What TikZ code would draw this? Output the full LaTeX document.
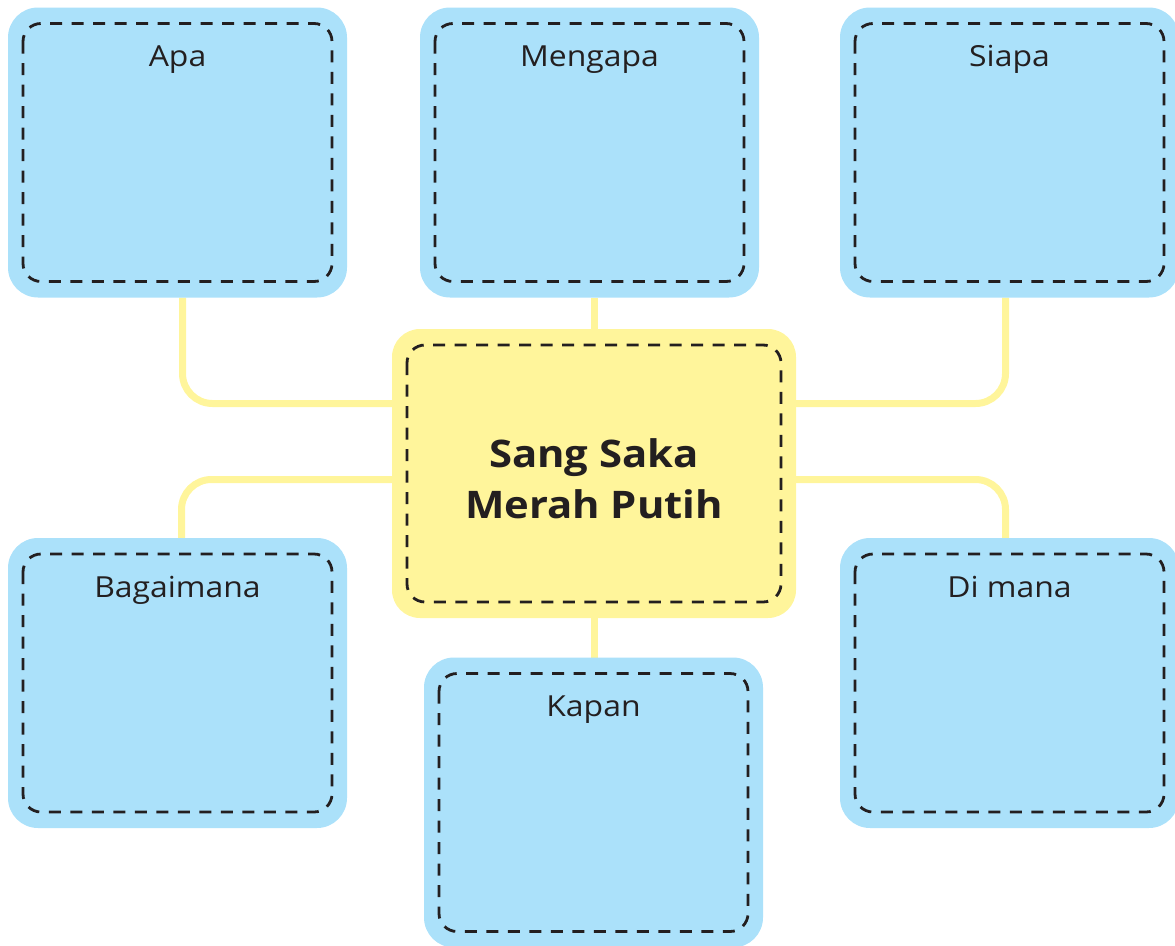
\documentclass[tikz,border=0pt]{standalone}
\usepackage{fontspec}
\setmainfont{Open Sans}[FakeStretch=1.1]
\usetikzlibrary{calc}
\definecolor{boxblue}{RGB}{171,225,250}
\definecolor{boxyellow}{RGB}{255,245,155}
\definecolor{dashink}{RGB}{35,31,32}
\pgfdeclarelayer{background}
\pgfsetlayers{background,main}
\tikzset{
  qbox/.style={fill=boxblue, draw=none, rounded corners=30pt, minimum width=339pt, minimum height=290pt, inner sep=0pt, outer sep=0pt},
  cbox/.style={fill=boxyellow, draw=none, rounded corners=28pt, minimum width=404pt, minimum height=289pt, inner sep=0pt, outer sep=0pt},
  dashline/.style={draw=dashink, line width=2.8pt, dash pattern=on 12pt off 9.5pt, rounded corners=18pt},
  qlabel/.style={anchor=base, inner sep=0pt, text=dashink, font=\fontsize{29}{34}\selectfont},
  conn/.style={draw=boxyellow, line width=7pt, rounded corners=30pt}
}
\newcommand{\innerdash}[1]{\draw[dashline] ([shift={(15pt,-16pt)}]#1.north west) rectangle ([shift={(-15pt,16pt)}]#1.south east);}
\begin{document}
\begin{tikzpicture}[x=1pt,y=-1pt]
\useasboundingbox (0,0) rectangle (1175,945);
\clip (0,0) rectangle (1175,945);
\node[qbox] (apa) at (177.5,152.5) {};
\node[qbox] (mengapa) at (589.5,152.5) {};
\node[qbox] (siapa) at (1009.5,152.5) {};
\node[cbox] (cen) at (594,473.5) {};
\node[qbox] (bag) at (177.5,683) {};
\node[qbox] (dimana) at (1009.5,683) {};
\node[qbox] (kapan) at (593.5,802.5) {};
\foreach \b in {apa,mengapa,siapa,cen,bag,dimana,kapan} {\innerdash{\b}}
\node[qlabel] (lapa) at ([yshift=-59pt]apa.north) {Apa};
\node[qlabel] (lmengapa) at ([yshift=-59pt]mengapa.north) {Mengapa};
\node[qlabel] (lsiapa) at ([yshift=-59pt]siapa.north) {Siapa};
\node[qlabel] (lbag) at ([yshift=-59pt]bag.north) {Bagaimana};
\node[qlabel] (ldimana) at ([yshift=-59pt]dimana.north) {Di mana};
\node[qlabel] (lkapan) at ([yshift=-59pt]kapan.north) {Kapan};
\node[align=center, text=dashink, inner sep=0pt, font=\fontsize{38}{51}\selectfont\bfseries] (title) at ([yshift=-5pt]cen.center) {Sang Saka\\Merah Putih};
\begin{pgfonlayer}{background}
\draw[conn] ([xshift=5pt]apa.south) |- ([yshift=70pt]cen.west);
\draw[conn] ([xshift=4pt]bag.north) |- ([yshift=-6pt]cen.west);
\draw[conn] ([xshift=-4pt]siapa.south) |- ([yshift=70pt]cen.east);
\draw[conn] ([xshift=-4pt]dimana.north) |- ([yshift=-6pt]cen.east);
\draw[conn, rounded corners=0pt] (cen.north) -- (cen.north |- mengapa.south);
\draw[conn, rounded corners=0pt] (cen.south) -- (cen.south |- kapan.north);
\end{pgfonlayer}
\end{tikzpicture}
\end{document}
